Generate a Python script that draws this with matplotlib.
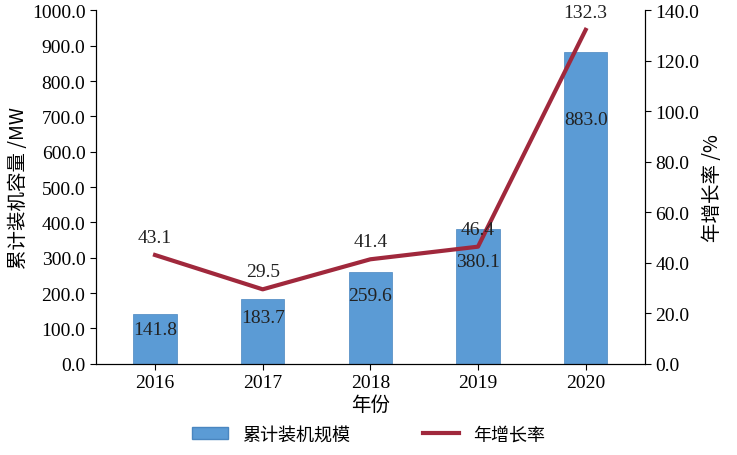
import matplotlib
matplotlib.use("Agg")
import matplotlib.pyplot as plt
from matplotlib.patches import Patch
from matplotlib.lines import Line2D

years = ["2016", "2017", "2018", "2019", "2020"]
capacity = [141.8, 183.7, 259.6, 380.1, 883.0]
growth = [43.1, 29.5, 41.4, 46.4, 132.3]

serif = "Liberation Serif"
cjk = "Noto Sans CJK SC"

fig = plt.figure(figsize=(7.37, 4.56), dpi=100)
ax = fig.add_axes([0.13, 0.2, 0.745, 0.775])
ax2 = ax.twinx()
x = range(len(years))
ax.bar(x, capacity, width=0.4, color="#5b9bd5", edgecolor="#4a86c0", linewidth=0.5)
for i, v in enumerate(capacity):
    ax.text(i, v * 0.8 - 15, f"{v:.1f}", ha="center", va="center", fontsize=14, family=serif, color="#222")
ax2.plot(x, growth, color="#a0283c", linewidth=3)
for i, v in enumerate(growth):
    ax2.text(i, v + 3.5, f"{v:.1f}", ha="center", va="bottom", fontsize=14, family=serif, color="#222")

ax.set_xlim(-0.55, 4.55)
ax.set_ylim(0, 1000)
ax2.set_ylim(0, 140)
ax.set_xticks(list(x))
ax.set_xticklabels(years, fontsize=14, family=serif)
ax.set_yticks(range(0, 1001, 100))
ax.set_yticklabels([f"{t:.1f}" for t in range(0, 1001, 100)], fontsize=14, family=serif)
ax2.set_yticks(range(0, 141, 20))
ax2.set_yticklabels([f"{t:.1f}" for t in range(0, 141, 20)], fontsize=14, family=serif)
for a in (ax, ax2):
    a.spines["top"].set_visible(False)
    a.tick_params(direction="out", length=4)
ax.set_ylabel("累计装机容量 /MW", fontsize=14, family=cjk, labelpad=2)
ax2.set_ylabel("年增长率 /%", fontsize=14, family=cjk, labelpad=2)
ax.set_xlabel("年份", fontsize=14, family=cjk, labelpad=2)

handles = [Patch(facecolor="#5b9bd5", edgecolor="#4a86c0"),
           Line2D([0], [0], color="#a0283c", linewidth=3)]
fig.legend(handles, ["累计装机规模", "年增长率"], loc="lower center", ncol=2,
           bbox_to_anchor=(0.5, -0.01), frameon=False, prop={"family": cjk, "size": 13},
           columnspacing=4)
fig.savefig("out.png", dpi=100)
